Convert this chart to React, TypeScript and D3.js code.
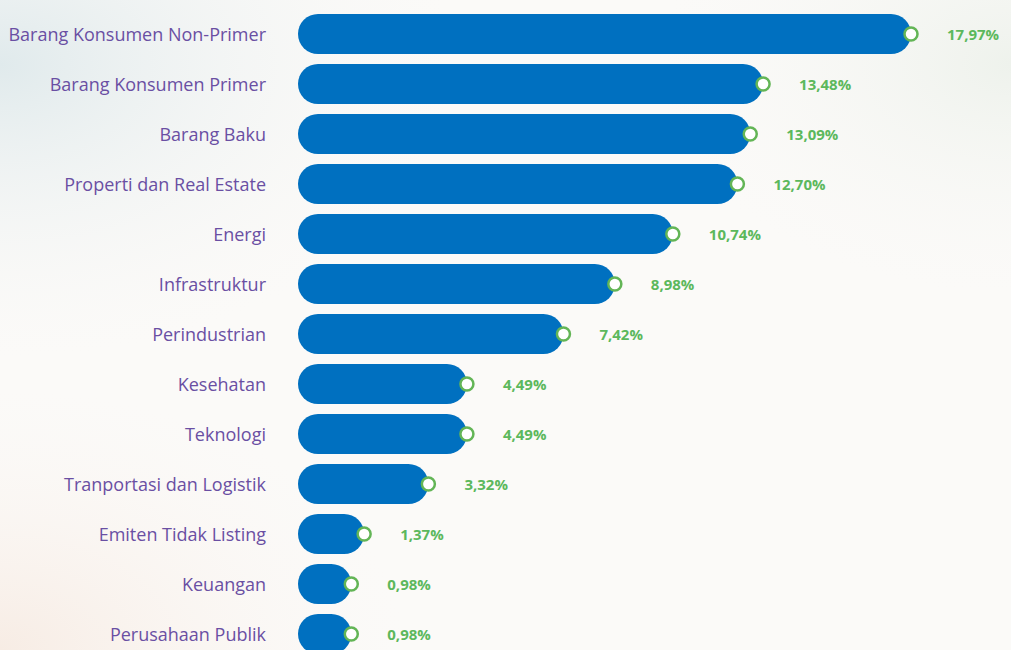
import React from "react";
import * as d3 from "d3";

const categories = [
  "Barang Konsumen Non-Primer",
  "Barang Konsumen Primer",
  "Barang Baku",
  "Properti dan Real Estate",
  "Energi",
  "Infrastruktur",
  "Perindustrian",
  "Kesehatan",
  "Teknologi",
  "Tranportasi dan Logistik",
  "Emiten Tidak Listing",
  "Keuangan",
  "Perusahaan Publik",
];
const values = [17.97, 13.48, 13.09, 12.7, 10.74, 8.98, 7.42, 4.49, 4.49, 3.32, 1.37, 0.98, 0.98];
const valueLabels = ["17,97%", "13,48%", "13,09%", "12,70%", "10,74%", "8,98%", "7,42%", "4,49%", "4,49%", "3,32%", "1,37%", "0,98%", "0,98%"];

const W = 1011;
const H = 650;

export default function App() {
  const x = d3.scaleLinear().domain([0, 18]).range([319, 912]);
  const y = d3
    .scaleBand<number>()
    .domain(d3.range(categories.length))
    .range([9, 659])
    .paddingInner(0.2)
    .paddingOuter(0.1);
  const barStart = 298;
  const bh = y.bandwidth();

  return (
    <svg
      width={W}
      height={H}
      style={{ position: "absolute", left: 0, top: 0, fontFamily: "'Open Sans', sans-serif" }}
    >
      <defs>
        <radialGradient id="bgTL" cx="0" cy="0.1" r="0.45">
          <stop offset="0" stopColor="#e0eaec" />
          <stop offset="1" stopColor="#f7f7f6" stopOpacity="0" />
        </radialGradient>
        <radialGradient id="bgBL" cx="0" cy="1" r="0.4">
          <stop offset="0" stopColor="#f7ece4" />
          <stop offset="1" stopColor="#fbf7f4" stopOpacity="0" />
        </radialGradient>
        <radialGradient id="bgR" cx="1" cy="0.1" r="0.35">
          <stop offset="0" stopColor="#eef2ec" />
          <stop offset="1" stopColor="#f8f8f6" stopOpacity="0" />
        </radialGradient>
      </defs>
      <rect width={W} height={H} fill="#fbfaf8" />
      <rect width={W} height={H} fill="url(#bgTL)" />
      <rect width={W} height={H} fill="url(#bgBL)" />
      <rect width={W} height={H} fill="url(#bgR)" />
      {values.map((v, i) => {
        const cy = (y(i) as number) + bh / 2;
        const xe = x(v);
        return (
          <g key={i}>
            <text
              x={266}
              y={cy}
              textAnchor="end"
              dominantBaseline="central"
              fontSize={18}
              fill="#6a4fa3"
            >
              {categories[i]}
            </text>
            <rect
              x={barStart}
              y={cy - bh / 2}
              width={xe - barStart}
              height={bh}
              rx={bh / 2}
              ry={bh / 2}
              fill="#0070c0"
            />
            <circle cx={xe} cy={cy} r={6.5} fill="#ffffff" stroke="#63b556" strokeWidth={2.5} />
            <text
              x={xe + 36}
              y={cy}
              dominantBaseline="central"
              fontSize={15}
              fontWeight={700}
              fill="#5cb85c"
            >
              {valueLabels[i]}
            </text>
          </g>
        );
      })}
    </svg>
  );
}
